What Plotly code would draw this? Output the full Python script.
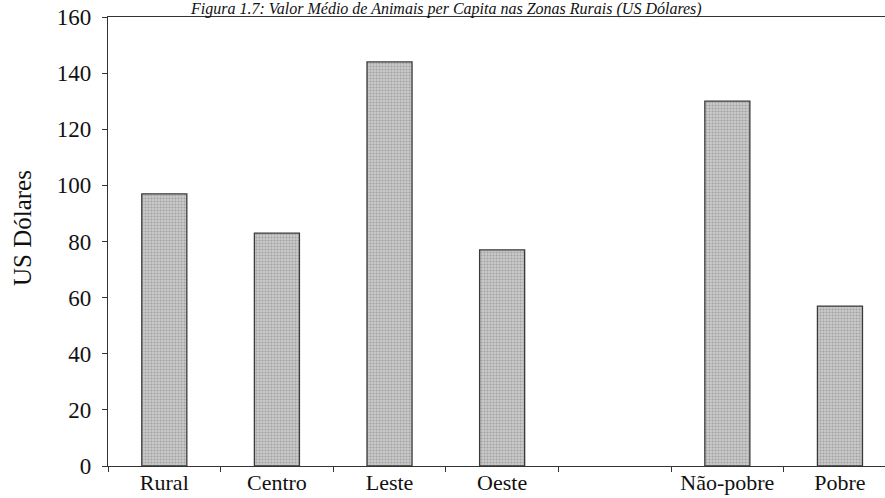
import plotly.graph_objects as go

categories = ["Rural", "Centro", "Leste", "Oeste", " ", "Não-pobre", "Pobre"]
values = [97, 83, 144, 77, None, 130, 57]
y_ticks = [0, 20, 40, 60, 80, 100, 120, 140, 160]
y_title = "US Dólares"
title_text = "Figura 1.7: Valor Médio de Animais per Capita nas Zonas Rurais (US Dólares)"

FONT = "Liberation Serif"

fig = go.Figure()
fig.add_trace(go.Bar(
    x=categories,
    y=values,
    width=0.4,
    marker=dict(
        color="#c4c4c4",
        line=dict(color="#3a3a3a", width=1.3),
        pattern=dict(shape=".", bgcolor="#cbcbcb", fgcolor="#7a7a7a",
                     size=3, solidity=0.4),
    ),
    showlegend=False,
))

fig.update_layout(
    width=885, height=498,
    margin=dict(l=108, r=0, t=17, b=32),
    paper_bgcolor="white", plot_bgcolor="white",
    font=dict(family=FONT, size=23, color="#111"),
    bargap=0.6,
)
fig.update_xaxes(
    type="category",
    categoryorder="array", categoryarray=categories,
    range=[-0.5, 6.4],
    showline=True, linecolor="#333", linewidth=1.2, mirror=True,
    ticks="outside", tickson="boundaries", ticklen=5, tickcolor="#333",
    showgrid=False, zeroline=False, automargin=False,
    tickfont=dict(family=FONT, size=22, color="#111"),
    ticklabelstandoff=-4,
)
fig.update_yaxes(
    range=[0, 160],
    tickvals=y_ticks,
    showline=True, linecolor="#333", linewidth=1.2,
    ticks="outside", ticklen=5, tickcolor="#333",
    showgrid=False, zeroline=False, automargin=False,
    tickfont=dict(family=FONT, size=23, color="#111"),
    ticklabelstandoff=6,
)
fig.add_annotation(
    text=y_title, textangle=-90,
    xref="paper", yref="paper", x=(22 - 108) / (885 - 108), y=0.53,
    xanchor="center", yanchor="middle", showarrow=False,
    font=dict(family=FONT, size=25, color="#111"),
)
fig.add_annotation(
    text="<i>" + title_text + "</i>",
    xref="paper", yref="paper", x=(188 - 108) / (885 - 108), y=1,
    xanchor="left", yanchor="bottom", yshift=-3,
    showarrow=False, align="left",
    font=dict(family=FONT, size=16, color="#111"),
)

fig.write_html("out.html")
